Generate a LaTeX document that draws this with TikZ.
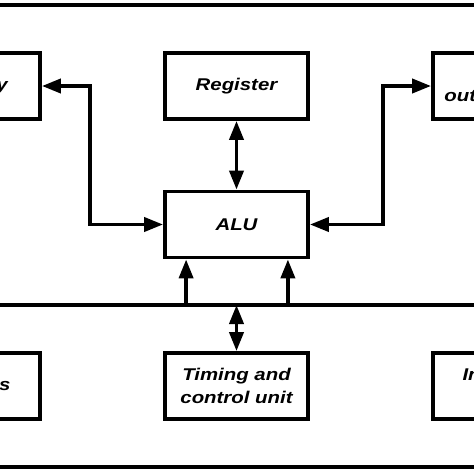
\documentclass[tikz,border=0pt]{standalone}
\usepackage{fontspec}
\setmainfont{Liberation Sans}[FakeStretch=1.2]
\usetikzlibrary{shapes, arrows.meta, positioning}

\tikzset{
  block/.style={draw, line width=3.8pt, minimum width=143pt, minimum height=66pt,
    align=center, font=\fontsize{17}{23}\selectfont\bfseries\itshape},
  link/.style={line width=3.8pt, -{Triangle[length=19pt,width=14pt]}},
  dbllink/.style={line width=3.8pt, {Triangle[length=19pt,width=14pt]}-{Triangle[length=19pt,width=14pt]}}
}

\begin{document}
\begin{tikzpicture}[x=1pt,y=-1pt]
      \useasboundingbox (0,0) rectangle (474,474);
      \clip (0,0) rectangle (474,474);

      \node[block] at (-31.5,86) (memory) {Memory};
      \node[block] at (236.5,86) (register) {Register};
      \node[block] at (504.5,86) (io) {Input/\\output ports};
      \node[block] at (236.5,224.5) (alu) {ALU};
      \node[block] at (-31.5,386) (ports) {I/O ports};
      \node[block] at (236.5,386) (timing) {Timing and\\control unit};
      \node[block] at (504.5,386) (interrupt) {Interrupt\\unit};

      % frame and bus
      \coordinate (topL) at (0,5);
      \coordinate (topR) at (474,5);
      \coordinate (busL) at (0,305);
      \coordinate (busR) at (474,305);
      \coordinate (botL) at (0,467);
      \coordinate (botR) at (474,467);
      \draw[line width=3.2pt] (topL) -- (topR);
      \draw[line width=3.8pt] (busL) -- (busR);
      \draw[line width=3.2pt] (botL) -- (botR);

      \draw[dbllink] (memory.east) -- ++(48,0) |- (alu.west);
      \draw[dbllink] (io.west) -- ++(-48,0) |- (alu.east);
      \draw[dbllink] (register) -- (alu);

      \draw[link] ([xshift=23pt]alu.south west |- busL) -- ([xshift=23pt]alu.south west);
      \draw[link] ([xshift=-22pt]alu.south east |- busL) -- ([xshift=-22pt]alu.south east);
      \draw[dbllink] (timing.north |- busL) -- (timing.north);
    \end{tikzpicture}
\end{document}
